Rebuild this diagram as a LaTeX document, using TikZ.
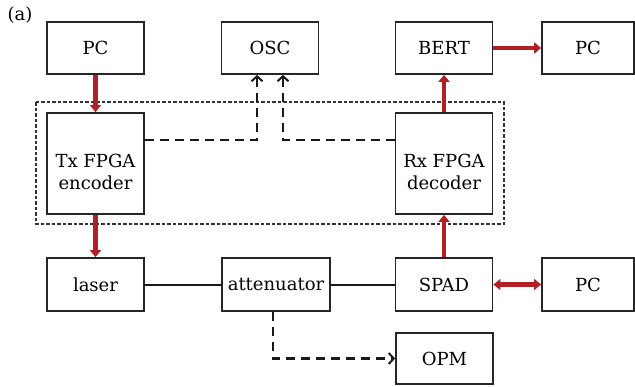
\documentclass[tikz,border=0pt]{standalone}
\usepackage{fontspec}
\setmainfont{DejaVu Serif}
\usetikzlibrary{arrows.meta}
\definecolor{linkred}{RGB}{178,32,38}
\begin{document}
\begin{tikzpicture}[x=1pt,y=-1pt,
  boxfont/.style={font=\fontsize{18}{22}\selectfont},
  box/.style={draw=black!85,line width=1.8pt,rectangle,minimum width=97pt,
    minimum height=52pt,inner sep=0pt,align=center,boxfont},
  boxtext/.style={inner sep=0pt,align=center,boxfont},
  redarrow/.style={draw=linkred,line width=4.5pt,
    -{Triangle[width=11pt,length=7pt]}},
  redboth/.style={draw=linkred,line width=4.5pt,
    {Triangle[width=11pt,length=7pt]}-{Triangle[width=11pt,length=7pt]}},
  sigline/.style={draw=black!90,line width=2.4pt,dash pattern=on 9pt off 6pt,
    -{Straight Barb[length=5pt,width=11pt,line width=2pt]}},
  fibre/.style={draw=black!90,line width=2pt}]
\useasboundingbox (0,0) rectangle (635,386);
\fill[white] (0,0) rectangle (635,386);

\node[font=\fontsize{18}{20}\selectfont] (lbl) at (20,15) {(a)};

% top row
\node[box] (pcA) at (95.5,48) {PC};
\node[box] (osc) at (270,48) {OSC};
\node[box] (bert) at (444,48) {BERT};
\node[box,minimum width=92pt] (pcB) at (588,48) {PC};

% FPGA boards (labels sit a little below centre)
\node[box,minimum height=101pt] (tx) at (95.5,163.5) {};
\node[boxtext] (txlabel) at ([yshift=-8pt]tx.center) {Tx FPGA\\encoder};
\node[box,minimum height=101pt] (rx) at (444,163.5) {};
\node[boxtext] (rxlabel) at ([yshift=-8pt]rx.center) {Rx FPGA\\decoder};

% optical link
\node[box,minimum height=53pt] (laser) at (95.5,284.5) {laser};
\node[box,minimum height=53pt,minimum width=108pt] (att) at (276,284.5) {attenuator};
\node[box,minimum height=53pt] (spad) at (444,284.5) {SPAD};
\node[box,minimum height=53pt,minimum width=92pt] (pcC) at (588,284.5) {PC};
\node[box,minimum height=51pt] (opm) at (444.5,358.5) {OPM};

% FPGA enclosure
\draw[black!80,line width=1.3pt,dash pattern=on 3.5pt off 2pt] (36,102) rectangle (504,224);

% electrical connections
\draw[redarrow] (pcA.south) -- (tx.north);
\draw[redarrow] (tx.south) -- (laser.north);
\draw[redarrow] (spad.north) -- (rx.south);
\draw[redarrow] (rx.north) -- (bert.south);
\draw[redarrow] (bert.east) -- (pcB.west);
\draw[redboth] (spad.east) -- (pcC.west);

% fibre
\draw[fibre] (laser.east) -- (att.west);
\draw[fibre] (att.east) -- (spad.west);

% monitoring signals
\coordinate (txo) at ([yshift=23.5pt]tx.east);
\coordinate (rxo) at ([yshift=23.5pt]rx.west);
\draw[sigline] (txo) -| ([xshift=-13pt]osc.south);
\draw[sigline] (rxo) -| ([xshift=13pt]osc.south);
\draw[sigline] ([xshift=-3pt]att.south) |- (opm.west);
\end{tikzpicture}
\end{document}
